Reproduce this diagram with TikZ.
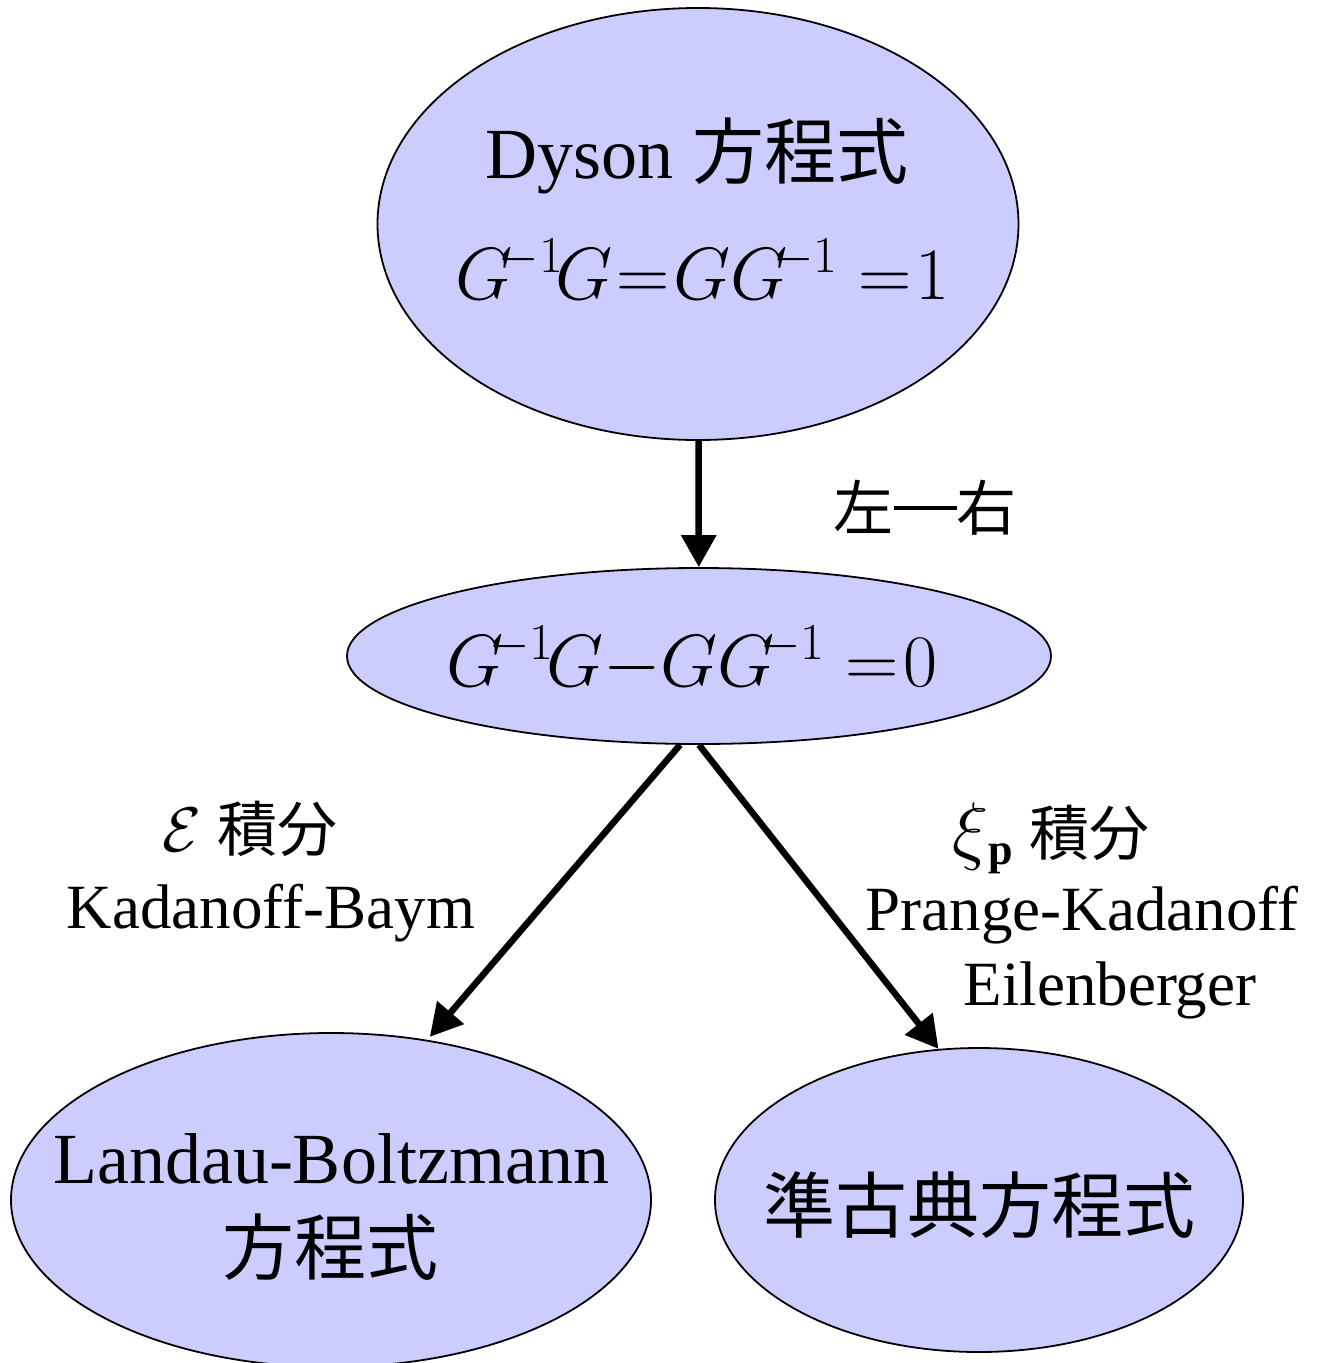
\documentclass[tikz,border=0pt]{standalone}
\usepackage{fix-cm}
\usepackage{amsmath}
\usepackage{fontspec}
\setmainfont{Liberation Serif}
\newfontfamily\cjk{Noto Sans CJK JP}
\usetikzlibrary{shapes.geometric,arrows.meta}
\definecolor{lav}{HTML}{CCCCFF}
\tikzset{
  ell/.style={ellipse, draw=black, line width=1.8pt, fill=lav, inner sep=0pt},
  big/.style={anchor=base, inner sep=0pt, font=\fontsize{72}{80}\selectfont},
  mth/.style={anchor=base, inner sep=0pt, font=\fontsize{74}{82}\selectfont},
  lab/.style={anchor=base, inner sep=0pt, font=\fontsize{63}{70}\selectfont},
  arr/.style={line width=6.5pt, -{Triangle[width=34pt,length=32pt]}}
}
\begin{document}
\begin{tikzpicture}[x=1pt,y=-1pt]
\useasboundingbox (0,0) rectangle (1321,1363);
\node[ell, minimum width=641pt, minimum height=432pt] (dyson) at (698,224) {};
\node[ell, minimum width=704pt, minimum height=176pt] (mid) at (699,656) {};
\node[ell, minimum width=640pt, minimum height=334pt] (lb) at (331,1200) {};
\node[ell, minimum width=528pt, minimum height=304pt] (rb) at (979,1200) {};

\node[big] (dysonT) at (697,178) {Dyson {\cjk 方程式}};
\node[mth] (dysonF) at (703,299) {$G^{\mkern-5mu-1}\mkern-2muG\mkern-4mu=\mkern-4muGG^{\mkern-5mu-1}\mkern5mu{=}\mkern1mu1$};
\node[mth] (midF) at (692,686) {$G^{\mkern-5mu-1}\mkern-2muG\mkern-4mu-\mkern-4muGG^{\mkern-5mu-1}\mkern5mu{=}\mkern1mu0$};
\node[big] (lbT) at (331,1183) {Landau-Boltzmann};
\node[big] (lbJ) at (330,1274) {\cjk 方程式};
\node[big] (rbT) at (979,1232) {\cjk 準古典方程式};

\node[lab, font=\fontsize{60}{66}\selectfont\cjk] (lr) at (925,530) {左\rule[0.33em]{1.05em}{0.07em}右};
\node[lab] (epsL) at (250,851) {$\mathcal{E}$ {\cjk\fontsize{60}{66}\selectfont 積分}};
\node[lab] (kb) at (271,928) {Kadanoff-Baym};
\node[lab] (xiL) at (1051,855) {{\fontsize{76}{80}\selectfont$\xi$}$_{\mathbf{p}}$ {\cjk\fontsize{60}{66}\selectfont 積分}};
\node[lab] (pk) at (1082,930) {Prange-Kadanoff};
\node[lab] (eil) at (1110,1005) {Eilenberger};

\draw[arr] (dyson) -- (mid);
\draw[arr, shorten >=4pt] (mid.258) -- (lb.59);
\draw[arr] (mid.south) -- (rb.105);
\end{tikzpicture}
\end{document}
